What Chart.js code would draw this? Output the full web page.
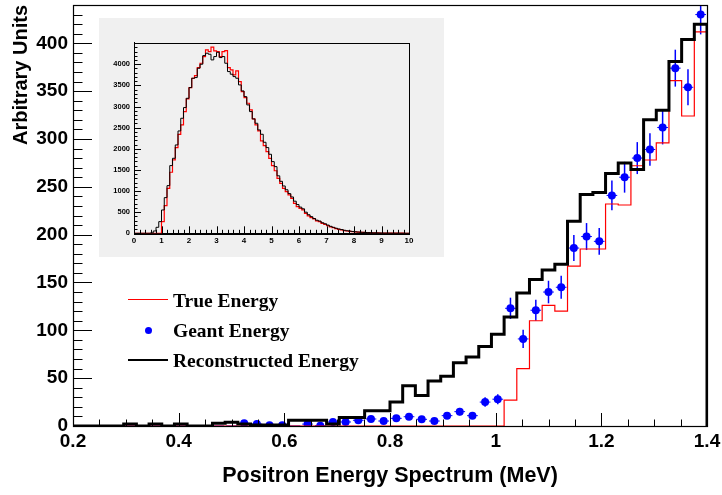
<!DOCTYPE html>
<html>
<head>
<meta charset="utf-8">
<script src="https://cdn.jsdelivr.net/npm/chart.js@4.4.0/dist/chart.umd.min.js"></script>
<style>
  body { margin: 0; background: #fff; }
  #wrap { position: relative; width: 722px; height: 495px; overflow: hidden; }
  #main { position: absolute; left: 0; top: 0; }
  #inset { position: absolute; left: 99px; top: 18px; background: #f0f0f0; }
  .leg { position: absolute; font: bold 19.5px "Liberation Serif", "Times New Roman", serif; line-height: 1; color: #000; white-space: nowrap; }
  .legline { position: absolute; left: 128px; width: 40px; }
  .legdot { position: absolute; width: 7.6px; height: 7.6px; border-radius: 50%; background: #0000ff; }
</style>
</head>
<body>
<div id="wrap">
  <canvas id="main" width="722" height="495"></canvas>
  <canvas id="inset" width="345" height="239"></canvas>
  <div class="legline" style="top:298.5px;height:1.2px;background:#ff0000"></div>
  <div class="leg" style="left:173px;top:290.5px">True Energy</div>
  <div class="legdot" style="left:144.5px;top:326.9px"></div>
  <div class="leg" style="left:173px;top:321px">Geant Energy</div>
  <div class="legline" style="top:358.7px;height:2.7px;background:#000"></div>
  <div class="leg" style="left:173px;top:350.5px">Reconstructed Energy</div>
</div>
<script>
// Main histogram: 50 bins of 0.024 MeV from 0.2 to 1.4
const binLow = 0.2;
const binWidth = 0.024;

const trueEnergy = [
  0, 0, 0, 0, 0, 0, 0, 0, 0, 0,
  0, 0, 0, 0, 0, 0, 0, 0, 0, 0,
  0, 0, 0, 0, 0, 0, 0, 0, 0, 0,
  0, 0, 0, 0, 27, 60, 110, 126, 120, 167,
  185, 185, 232, 231, 272, 278, 296, 361, 324, 412
];

const recoEnergy = [
  0, 0, 0, 0, 2, 0, 2, 0, 2, 0,
  0, 3, 4, 2, 1, 1, 1, 6, 6, 6,
  2, 9, 9, 16, 16, 25, 42, 32, 47, 52,
  66, 72, 83, 96, 114, 139, 153, 163, 169, 214,
  242, 244, 264, 275, 268, 320, 330, 381, 404, 420
];

const geantEnergy = [
  0, 0, 0, 0, 0, 0, 0, 0, 0, 0,
  0, 0, 0, 2.8, 2, 0.7, 0.7, 0, 2, 0.3,
  4.2, 4.2, 6, 7.3, 5.2, 8, 9.7, 7, 5.2, 10.8,
  15, 10.8, 25, 28, 123, 91, 121, 140, 145, 186,
  198, 193, 241, 260, 280, 289, 312, 374, 354, 430
];

const geantErrors = [
  0, 0, 0, 0, 0, 0, 0, 0, 0, 0,
  0, 0, 0, 1.7, 1.4, 0.8, 0.8, 0, 1.4, 0.5,
  2, 2, 2.4, 2.7, 2.3, 2.8, 3.1, 2.6, 2.3, 3.3,
  3.9, 3.3, 5, 5.3, 11.1, 9.5, 11, 11.8, 12, 13.6,
  14.1, 13.9, 15.5, 16.1, 16.7, 17, 17.7, 19.3, 18.8, 20.7
];

const mainYTicks = [0, 50, 100, 150, 200, 250, 300, 350, 400];

// Inset: 100 bins of 0.1 MeV from 0 to 10
const insetLow = 0;
const insetWidth = 0.1;

const insetTrue = [
  0, 0, 0, 0, 0, 0, 0, 0, 0, 0,
  276, 655, 1065, 1444, 1736, 2028, 2343, 2564, 2880, 3180,
  3448, 3669, 3732, 3921, 4024, 4182, 4340, 4300, 4403, 4316,
  4300, 4182, 4300, 4324, 3921, 3866, 3748, 3843, 3590, 3353,
  3211, 3077, 2919, 2706, 2564, 2422, 2186, 2075, 1933, 1775,
  1600, 1480, 1302, 1183, 1065, 986, 907, 828, 710, 631,
  592, 552, 473, 410, 371, 339, 292, 276, 237, 213,
  181, 150, 134, 110, 95, 79, 63, 55, 47, 39,
  32, 28, 24, 20, 17, 14, 12, 10, 8, 7,
  6, 5, 4, 4, 3, 3, 2, 2, 1, 1
];

const insetReco = [
  0, 0, 0, 0, 0, 0, 10, 55, 142, 276,
  552, 844, 1128, 1602, 1775, 2091, 2422, 2722, 2975, 3195,
  3448, 3669, 3685, 3906, 4000, 4205, 4261, 4237, 4103, 4182,
  4284, 4158, 4182, 4024, 3827, 3764, 3708, 3669, 3511, 3369,
  3235, 3038, 2880, 2706, 2604, 2446, 2343, 2154, 2028, 1870,
  1696, 1578, 1360, 1230, 1120, 1030, 940, 860, 760, 680,
  620, 580, 500, 440, 395, 350, 310, 290, 250, 225,
  195, 165, 142, 120, 102, 88, 72, 60, 52, 44,
  36, 30, 26, 22, 19, 16, 13, 11, 9, 8,
  6, 5, 5, 4, 4, 3, 3, 2, 2, 1
];

const insetXTicks = [0, 1, 2, 3, 4, 5, 6, 7, 8, 9, 10];
const insetYTicks = [0, 500, 1000, 1500, 2000, 2500, 3000, 3500, 4000];

// histogram outline as step points (left edges)
function histPoints(vals, low, width) {
  const pts = [{ x: low, y: 0 }];
  vals.forEach((v, i) => pts.push({ x: low + i * width, y: v }));
  const end = low + vals.length * width;
  pts.push({ x: end, y: vals[vals.length - 1] });
  pts.push({ x: end, y: 0 });
  return pts;
}

const fixedTicks = list => axis => { axis.ticks = list.map(v => ({ value: v })); };

// fixed axis box, no extra padding for overhanging labels
const fitBox = (w, h) => s => {
  if (w != null) s.width = w;
  if (h != null) s.height = h;
  s.paddingTop = 0; s.paddingBottom = 0; s.paddingLeft = 0; s.paddingRight = 0;
};

const sansBold = { family: '"Liberation Sans", Arial, sans-serif', weight: 'bold' };

// inward ticks + frame, ROOT style
function rootAxes(opt) {
  return {
    id: 'rootAxes',
    afterDraw(chart) {
      const { ctx, chartArea: a, scales: { x, y } } = chart;
      ctx.save();
      ctx.strokeStyle = '#000';
      ctx.lineWidth = 1;
      ctx.beginPath();
      const nx = Math.round((x.max - x.min) / opt.xMinor);
      for (let k = 0; k <= nx; k++) {
        const v = x.min + k * opt.xMinor;
        const px = Math.round(x.getPixelForValue(v)) + 0.5;
        const major = Math.abs(v / opt.xMajor - Math.round(v / opt.xMajor)) < 1e-6;
        ctx.moveTo(px, a.bottom);
        ctx.lineTo(px, a.bottom - (major ? opt.xMajorLen : opt.xMinorLen));
      }
      const ny = Math.floor((y.max - y.min) / opt.yMinor + 1e-6);
      for (let k = 0; k <= ny; k++) {
        const v = y.min + k * opt.yMinor;
        const py = Math.round(y.getPixelForValue(v)) + 0.5;
        const major = Math.abs(v / opt.yMajor - Math.round(v / opt.yMajor)) < 1e-6;
        ctx.moveTo(a.left, py);
        ctx.lineTo(a.left + (major ? opt.yMajorLen : opt.yMinorLen), py);
      }
      ctx.stroke();
      ctx.lineWidth = opt.frameWidth;
      ctx.strokeRect(Math.round(a.left) + 0.5, Math.round(a.top) + 0.5,
        Math.round(a.right - a.left), Math.round(a.bottom - a.top));
      ctx.restore();
    }
  };
}

// Geant error bars drawn beneath the markers
const errorBars = {
  id: 'errorBars',
  beforeDatasetDraw(chart, args) {
    if (args.index !== 2) return;
    const { ctx, chartArea: a, scales: { x, y } } = chart;
    ctx.save();
    ctx.beginPath();
    ctx.rect(a.left, a.top, a.right - a.left, a.bottom - a.top);
    ctx.clip();
    ctx.strokeStyle = '#0000ff';
    geantEnergy.forEach((v, i) => {
      const x0 = x.getPixelForValue(binLow + i * binWidth);
      const x1 = x.getPixelForValue(binLow + (i + 1) * binWidth);
      const py = y.getPixelForValue(v);
      ctx.lineWidth = 1;
      ctx.beginPath();
      ctx.moveTo(x0 + 1, py);
      ctx.lineTo(x1 - 1, py);
      ctx.stroke();
      const e = geantErrors[i];
      if (e > 0) {
        const xc = (x0 + x1) / 2;
        ctx.lineWidth = 1.5;
        ctx.beginPath();
        ctx.moveTo(xc, y.getPixelForValue(v - e));
        ctx.lineTo(xc, y.getPixelForValue(v + e));
        ctx.stroke();
      }
    });
    ctx.restore();
  }
};

const mainChart = new Chart(document.getElementById('main'), {
  type: 'line',
  data: {
    datasets: [{
      label: 'Reconstructed Energy',
      data: histPoints(recoEnergy, binLow, binWidth),
      borderColor: '#000000',
      borderWidth: 3,
      stepped: true,
      pointRadius: 0,
      fill: false
    }, {
      label: 'True Energy',
      data: histPoints(trueEnergy, binLow, binWidth),
      borderColor: '#ff0000',
      borderWidth: 1.2,
      stepped: true,
      pointRadius: 0,
      fill: false
    }, {
      label: 'Geant Energy',
      data: geantEnergy.map((v, i) => ({ x: binLow + (i + 0.5) * binWidth, y: v })),
      showLine: false,
      pointRadius: ctx => geantEnergy[ctx.dataIndex] > 0 ? 4 : 0,
      pointBackgroundColor: '#0000ff',
      pointBorderWidth: 0,
      borderColor: '#0000ff'
    }]
  },
  options: {
    responsive: false,
    animation: false,
    events: [],
    layout: { padding: { left: 0, top: 5, right: 15, bottom: 0 } },
    plugins: { legend: { display: false }, tooltip: { enabled: false } },
    scales: {
      x: {
        type: 'linear',
        min: 0.2,
        max: 1.4,
        grid: { display: false, drawTicks: false },
        border: { display: true, color: '#000', width: 1 },
        ticks: {
          stepSize: 0.2,
          padding: 4,
          color: '#000',
          font: { ...sansBold, size: 19 },
          maxRotation: 0,
          callback: v => String(+v.toFixed(1))
        },
        title: {
          display: true,
          text: 'Positron Energy Spectrum (MeV)',
          color: '#000',
          font: { ...sansBold, size: 21.5 },
          padding: { top: 0, bottom: 6 }
        },
        afterFit: fitBox(null, 69)
      },
      y: {
        type: 'linear',
        min: 0,
        max: 440,
        grid: { display: false, drawTicks: false },
        border: { display: true, color: '#000', width: 1 },
        afterBuildTicks: fixedTicks(mainYTicks),
        ticks: {
          padding: 5,
          color: '#000',
          font: { ...sansBold, size: 19 }
        },
        title: {
          display: true,
          text: 'Arbitrary Units',
          align: 'end',
          color: '#000',
          font: { ...sansBold, size: 20 },
          padding: { top: 9, bottom: 0 }
        },
        afterFit: fitBox(73, null)
      }
    }
  },
  plugins: [errorBars, rootAxes({
    xMinor: 0.05, xMajor: 0.2, xMajorLen: 13, xMinorLen: 6.5,
    yMinor: 10, yMajor: 50, yMajorLen: 19, yMinorLen: 9.5, frameWidth: 1.2
  })]
});

const insetChart = new Chart(document.getElementById('inset'), {
  type: 'line',
  data: {
    datasets: [{
      label: 'Reconstructed Energy',
      data: histPoints(insetReco, insetLow, insetWidth),
      borderColor: '#000000',
      borderWidth: 1,
      stepped: true,
      pointRadius: 0
    }, {
      label: 'True Energy',
      data: histPoints(insetTrue, insetLow, insetWidth),
      borderColor: '#ff0000',
      borderWidth: 1.2,
      stepped: true,
      pointRadius: 0
    }]
  },
  options: {
    responsive: false,
    animation: false,
    events: [],
    layout: { padding: { left: 0, top: 24.7, right: 35, bottom: 0 } },
    plugins: { legend: { display: false }, tooltip: { enabled: false } },
    scales: {
      x: {
        type: 'linear',
        min: 0,
        max: 10,
        grid: { display: false, drawTicks: false },
        border: { display: true, color: '#000', width: 1 },
        afterBuildTicks: fixedTicks(insetXTicks),
        ticks: { padding: 3, color: '#000', font: { ...sansBold, size: 8 }, maxRotation: 0 },
        afterFit: fitBox(null, 23.7)
      },
      y: {
        type: 'linear',
        min: 0,
        max: 4510,
        grid: { display: false, drawTicks: false },
        border: { display: true, color: '#000', width: 1 },
        afterBuildTicks: fixedTicks(insetYTicks),
        ticks: {
          padding: 4,
          color: '#000',
          font: { ...sansBold, size: 7.5 },
          callback: v => String(v)
        },
        afterFit: fitBox(35, null)
      }
    }
  },
  plugins: [rootAxes({
    xMinor: 0.2, xMajor: 1, xMajorLen: 7, xMinorLen: 3.5,
    yMinor: 100, yMajor: 500, yMajorLen: 7, yMinorLen: 3.5, frameWidth: 1
  })]
});
</script>
</body>
</html>
